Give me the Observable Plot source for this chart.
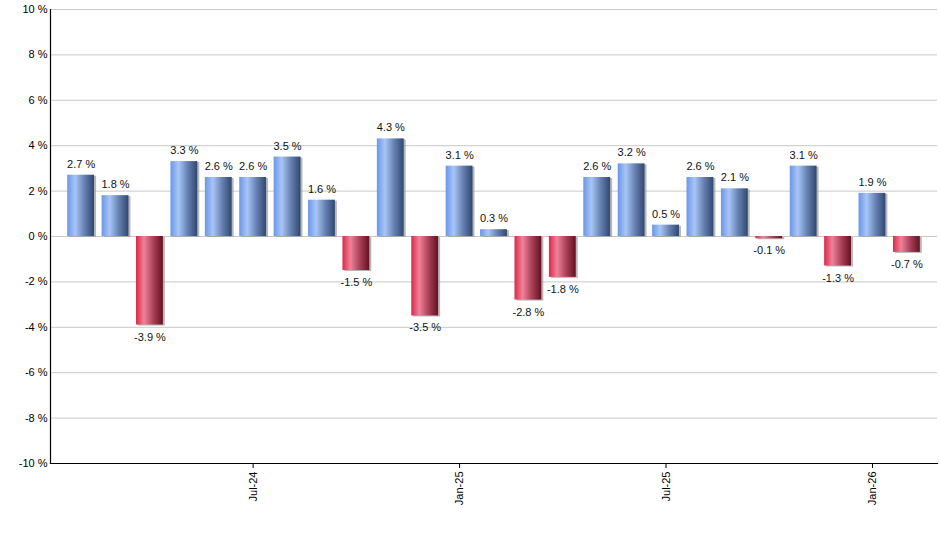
<!DOCTYPE html>
<html>
<head>
<meta charset="utf-8">
<script src="https://cdn.jsdelivr.net/npm/d3@7"></script>
<script src="https://cdn.jsdelivr.net/npm/@observablehq/plot@0.6"></script>
<style>
  html, body { margin: 0; padding: 0; background: #fff; }
  svg { display: block; }
</style>
</head>
<body>
<div id="chart"></div>
<script>
const months = ["Feb-24","Mar-24","Apr-24","May-24","Jun-24","Jul-24","Aug-24","Sep-24","Oct-24","Nov-24","Dec-24",
  "Jan-25","Feb-25","Mar-25","Apr-25","May-25","Jun-25","Jul-25","Aug-25","Sep-25","Oct-25","Nov-25","Dec-25",
  "Jan-26","Feb-26"];
const returns = [2.7, 1.8, -3.9, 3.3, 2.6, 2.6, 3.5, 1.6, -1.5, 4.3, -3.5, 3.1, 0.3, -2.8, -1.8, 2.6, 3.2, 0.5, 2.6, 2.1, -0.1, 3.1, -1.3, 1.9, -0.7];
const xTickLabels = ["Jul-24", "Jan-25", "Jul-25", "Jan-26"];
const yTicks = [-10, -8, -6, -4, -2, 0, 2, 4, 6, 8, 10];

const data = months.map((m, i) => ({month: m, value: returns[i]}));
const fmt = v => v.toFixed(1) + " %";

const chart = Plot.plot({
  width: 940,
  height: 550,
  marginLeft: 50,
  marginRight: 3,
  marginTop: 9,
  marginBottom: 87,
  style: {fontFamily: "'Liberation Sans', Arial, sans-serif", fontSize: "11px", color: "#000", background: "#fff"},
  x: {domain: months, paddingInner: 0.22, paddingOuter: 0.5, align: 0.5, round: false, axis: null, label: null},
  y: {domain: [-10, 10], axis: null, label: null},
  marks: [
    Plot.gridY(yTicks, {stroke: "#c8c8c8", strokeOpacity: 1}),
    Plot.axisY(yTicks, {tickSize: 0, tickPadding: 3, tickFormat: d => d + " %", fill: "#000", label: null}),
    Plot.axisX(xTickLabels, {tickRotate: -90, tickSize: 5, tickPadding: 3, stroke: "#000", fill: "#000", label: null}),
    Plot.barY(data, {x: "month", y: "value", fill: "#9a9a9a", fillOpacity: 0.7, dx: 2, dy: 1}),
    Plot.barY(data, {x: "month", y: "value", fill: d => d.value >= 0 ? "url(#gblue)" : "url(#gred)"}),
    Plot.text(data.filter(d => d.value >= 0), {x: "month", y: "value", text: d => fmt(d.value), dy: -11, fill: "#111", lineAnchor: "middle"}),
    Plot.text(data.filter(d => d.value < 0), {x: "month", y: "value", text: d => fmt(d.value), dy: 12, fill: "#111", lineAnchor: "middle"}),
    Plot.frame({anchor: "left", stroke: "#000", strokeWidth: 1.2}),
    Plot.frame({anchor: "bottom", stroke: "#000", strokeWidth: 1.2})
  ]
});

d3.select(chart).insert("defs", ":first-child").html(`
  <linearGradient id="gblue" x1="0" y1="0" x2="1" y2="0">
    <stop offset="0" stop-color="#6a97ea"/>
    <stop offset="0.3" stop-color="#a8c5f6"/>
    <stop offset="0.65" stop-color="#6580b0"/>
    <stop offset="1" stop-color="#2f4870"/>
  </linearGradient>
  <linearGradient id="gred" x1="0" y1="0" x2="1" y2="0">
    <stop offset="0" stop-color="#dc2848"/>
    <stop offset="0.3" stop-color="#ef8299"/>
    <stop offset="0.65" stop-color="#a84058"/>
    <stop offset="1" stop-color="#65101f"/>
  </linearGradient>
`);

document.getElementById("chart").appendChild(chart);
</script>
</body>
</html>
